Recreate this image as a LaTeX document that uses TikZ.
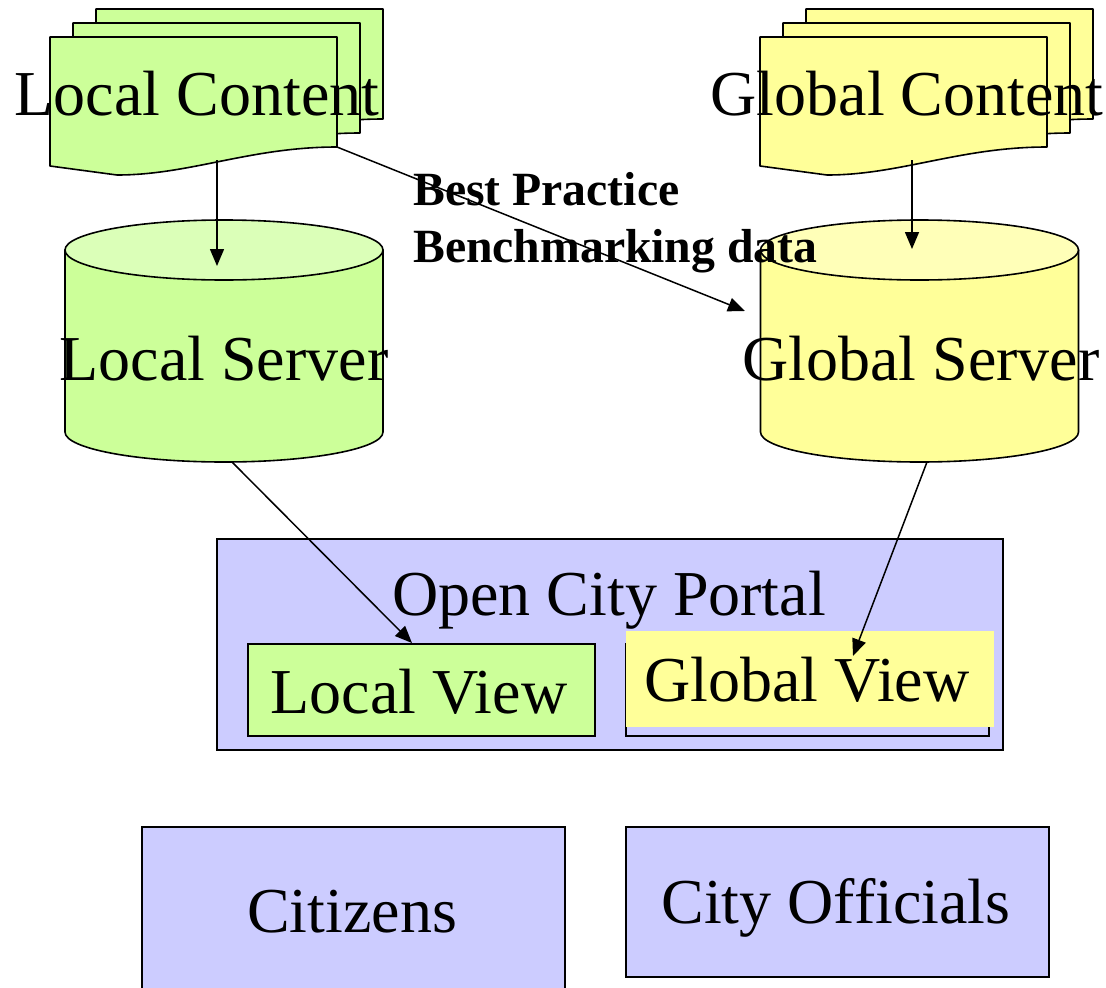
\documentclass[tikz,border=0pt]{standalone}
\usepackage{fontspec}
\setmainfont{Liberation Serif}
\usepackage{xcolor}
\usetikzlibrary{arrows.meta}

\definecolor{lgreen}{HTML}{CCFF99}
\definecolor{lgreentop}{HTML}{DBFFB8}
\definecolor{lyellow}{HTML}{FFFF99}
\definecolor{lyellowtop}{HTML}{FFFFB8}
\definecolor{lavender}{HTML}{CCCCFF}

\begin{document}
\begin{tikzpicture}[x=1pt,y=-1pt]
    \tikzstyle{outl}=[draw,line width=1.6pt,line join=round]
    \tikzstyle{big}=[font=\fontsize{64}{77}\selectfont,inner sep=0pt,anchor=base]
    \tikzstyle{box}=[rectangle,draw,line width=1.6pt,anchor=north west,inner sep=0pt]
    \tikzstyle{arr}=[line width=1.5pt,-{Triangle[length=17pt,width=14pt]}]

    \useasboundingbox (0,0) rectangle (1106,988);

    % Content stacks
    \foreach \dx/\dy in {46/-28,23/-14,0/0} {
        \filldraw [outl,fill=lgreen,shift={(\dx,\dy)}] (50,37) -- (337,37) -- (337,147)
            .. controls (250,147) and (190,175) .. (117,175) -- (50,166) -- cycle;
        \filldraw [outl,fill=lyellow,shift={(\dx,\dy)}] (760,37) -- (1047,37) -- (1047,147)
            .. controls (960,147) and (900,175) .. (827,175) -- (760,166) -- cycle;
    }
    \node [big] (lcontent) at (197,115) {Local Content};
    \node [big] (gcontent) at (907,115) {Global Content};

    % Servers
    \filldraw [outl,fill=lgreen] (65,250) -- (65,432)
        arc [start angle=180,end angle=0,x radius=159,y radius=30] -- (383,250) -- cycle;
    \filldraw [outl,fill=lgreentop] (224,250) ellipse [x radius=159,y radius=30];
    \filldraw [outl,fill=lyellow] (760.5,250) -- (760.5,432)
        arc [start angle=180,end angle=0,x radius=159,y radius=30] -- (1078.5,250) -- cycle;
    \filldraw [outl,fill=lyellowtop] (919.5,250) ellipse [x radius=159,y radius=30];
    \node [big] (lserver) at (224,380) {Local Server};
    \node [big] (gserver) at (921,380) {Global Server};

    \node [font=\bfseries\fontsize{47.7}{57}\selectfont,align=left,inner sep=0pt,anchor=base west]
        (bpdata) at (413,262) {Best Practice\\Benchmarking data};

    % Portal
    \node [box,fill=lavender,minimum width=786pt,minimum height=211pt] (portal) at (216,538) {};
    \node [big] (ptitle) at (609,615) {Open City Portal};
    \node [box,fill=lgreen,minimum width=347pt,minimum height=92pt] (lview) at (247,643) {};
    \node [big] at (419,713) {Local View};
    \node [box,minimum width=363pt,minimum height=92pt] (gviewframe) at (625,643) {};
    \node [box,draw=none,fill=lyellow,minimum width=368pt,minimum height=96pt] (gview) at (625,630) {};
    \node [big] at (807,701) {Global View};

    % Users
    \node [box,fill=lavender,minimum width=423pt,minimum height=180pt] (citizens) at (141,826) {};
    \node [big] at (352,932) {Citizens};
    \node [box,fill=lavender,minimum width=423pt,minimum height=150pt] (officials) at (625,826) {};
    \node [big] at (836,923) {City Officials};

    % Connectors
    \coordinate (lcbot) at (217,160);
    \coordinate (lstop) at (217,266);
    \coordinate (gcbot) at (912,160);
    \coordinate (gstop) at (912,249);
    \coordinate (lcedge) at (337,147);
    \coordinate (gsside) at (745,311);
    \coordinate (lsbot) at (232,462);
    \coordinate (lviewin) at (412,643);
    \coordinate (gsbot) at (927,462);
    \coordinate (gviewin) at (853,656);

    \draw [arr] (lcbot) -- (lstop);
    \draw [arr] (gcbot) -- (gstop);
    \draw [arr] (lcedge) -- (gsside);
    \draw [arr] (lsbot) -- (lviewin);
    \draw [arr] (gsbot) -- (gviewin);
\end{tikzpicture}
\end{document}
